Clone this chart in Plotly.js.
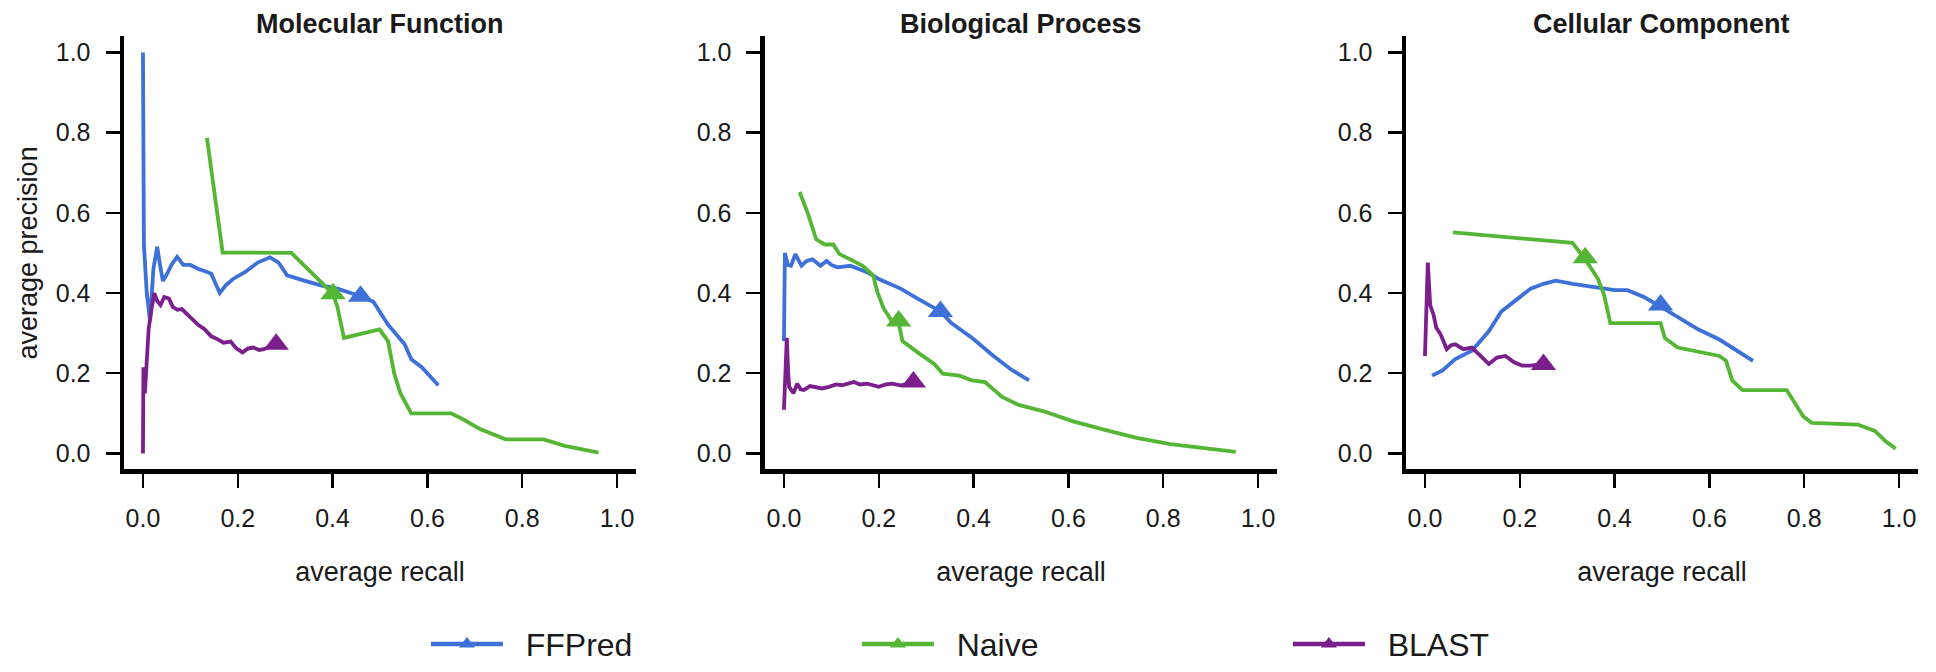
<!DOCTYPE html>
<html>
<head>
<meta charset="utf-8">
<script src="https://cdn.plot.ly/plotly-3.0.1.min.js"></script>
<style>
  html, body { margin: 0; padding: 0; background: #ffffff; }
  #chart { width: 1936px; height: 672px; }
</style>
</head>
<body>
<div id="chart"></div>
<script>
// ---------------- data ----------------
const methods = ["FFPred", "Naive", "BLAST"];
const panelTitles = ["Molecular Function", "Biological Process", "Cellular Component"];
const tickValues = [0, 0.2, 0.4, 0.6, 0.8, 1.0];
const tickLabels = ["0.0", "0.2", "0.4", "0.6", "0.8", "1.0"];

// Molecular Function
const mfFFPredRecall    = [0.000,0.002,0.008,0.015,0.022,0.030,0.036,0.042,0.052,0.060,0.072,0.085,0.100,0.117,0.130,0.144,0.162,0.175,0.190,0.215,0.242,0.268,0.286,0.304,0.340,0.375,0.410,0.459,0.486,0.517,0.552,0.566,0.588,0.623];
const mfFFPredPrecision = [1.000,0.520,0.400,0.330,0.460,0.515,0.470,0.430,0.450,0.470,0.490,0.470,0.470,0.460,0.455,0.448,0.400,0.420,0.435,0.452,0.476,0.489,0.476,0.444,0.431,0.419,0.411,0.392,0.378,0.321,0.272,0.235,0.215,0.170];
const mfNaiveRecall     = [0.135,0.168,0.313,0.401,0.410,0.424,0.499,0.517,0.530,0.543,0.566,0.650,0.677,0.712,0.765,0.845,0.890,0.961];
const mfNaivePrecision  = [0.787,0.501,0.500,0.398,0.366,0.288,0.309,0.280,0.199,0.150,0.100,0.100,0.084,0.060,0.035,0.035,0.019,0.002];
const mfBlastRecall     = [0.000,0.001,0.004,0.008,0.012,0.018,0.024,0.030,0.037,0.045,0.055,0.063,0.073,0.082,0.095,0.105,0.117,0.130,0.144,0.157,0.170,0.185,0.197,0.210,0.222,0.233,0.245,0.255,0.268,0.281];
const mfBlastPrecision  = [0.000,0.215,0.150,0.220,0.310,0.360,0.400,0.380,0.370,0.390,0.386,0.365,0.358,0.360,0.346,0.335,0.320,0.310,0.292,0.285,0.276,0.279,0.262,0.252,0.262,0.264,0.258,0.260,0.266,0.272];
const mfMarkRecall      = [0.459, 0.401, 0.281];
const mfMarkPrecision   = [0.392, 0.398, 0.272];

// Biological Process
const bpFFPredRecall    = [0.000,0.002,0.008,0.015,0.024,0.037,0.048,0.060,0.077,0.090,0.100,0.113,0.140,0.175,0.200,0.246,0.282,0.330,0.353,0.397,0.442,0.477,0.517];
const bpFFPredPrecision = [0.280,0.500,0.470,0.468,0.497,0.468,0.480,0.484,0.468,0.480,0.470,0.464,0.468,0.452,0.435,0.411,0.386,0.354,0.325,0.288,0.243,0.211,0.182];
const bpNaiveRecall     = [0.033,0.050,0.068,0.086,0.104,0.117,0.140,0.166,0.188,0.197,0.210,0.228,0.242,0.250,0.282,0.317,0.335,0.370,0.397,0.424,0.460,0.495,0.548,0.610,0.673,0.744,0.815,0.886,0.953];
const bpNaivePrecision  = [0.652,0.600,0.534,0.521,0.521,0.497,0.484,0.468,0.444,0.403,0.362,0.329,0.325,0.280,0.252,0.223,0.199,0.194,0.182,0.178,0.141,0.121,0.105,0.080,0.060,0.039,0.023,0.012,0.004];
const bpBlastRecall     = [0.000,0.003,0.006,0.009,0.011,0.020,0.028,0.035,0.042,0.055,0.068,0.080,0.095,0.110,0.122,0.135,0.148,0.160,0.175,0.188,0.200,0.215,0.228,0.246,0.260,0.273];
const bpBlastPrecision  = [0.109,0.220,0.288,0.200,0.166,0.150,0.174,0.160,0.158,0.168,0.166,0.162,0.166,0.172,0.170,0.175,0.178,0.172,0.174,0.170,0.166,0.172,0.174,0.170,0.174,0.176];
const bpMarkRecall      = [0.330, 0.242, 0.273];
const bpMarkPrecision   = [0.354, 0.330, 0.178];

// Cellular Component
const ccFFPredRecall    = [0.015,0.037,0.064,0.099,0.135,0.161,0.196,0.223,0.250,0.276,0.312,0.356,0.400,0.427,0.462,0.497,0.542,0.577,0.621,0.648,0.692];
const ccFFPredPrecision = [0.194,0.207,0.235,0.256,0.305,0.354,0.386,0.411,0.423,0.431,0.423,0.415,0.407,0.407,0.390,0.366,0.333,0.309,0.284,0.264,0.231];
const ccNaiveRecall     = [0.059,0.311,0.338,0.365,0.378,0.391,0.497,0.506,0.533,0.621,0.635,0.648,0.670,0.763,0.798,0.816,0.913,0.949,0.971,0.993];
const ccNaivePrecision  = [0.551,0.525,0.484,0.435,0.395,0.325,0.325,0.288,0.264,0.243,0.231,0.182,0.158,0.158,0.092,0.076,0.072,0.056,0.031,0.012];
const ccBlastRecall     = [0.000,0.002,0.006,0.011,0.018,0.024,0.033,0.046,0.055,0.064,0.081,0.099,0.117,0.135,0.152,0.170,0.188,0.205,0.223,0.250];
const ccBlastPrecision  = [0.243,0.354,0.476,0.370,0.346,0.313,0.297,0.260,0.270,0.272,0.260,0.264,0.243,0.223,0.239,0.243,0.227,0.219,0.219,0.223];
const ccMarkRecall      = [0.497, 0.338, 0.250];
const ccMarkPrecision   = [0.370, 0.488, 0.222];

// ---------------- styling ----------------
const colors = ["#3d70d8", "#54b634", "#7a1f8c"];
const FONT = "Liberation Sans, Arial, Helvetica, sans-serif";
const TEXT = "#1a1a1a";

const panels = [
  { xa: "x",  ya: "y",  lines: [[mfFFPredRecall, mfFFPredPrecision],[mfNaiveRecall, mfNaivePrecision],[mfBlastRecall, mfBlastPrecision]], mr: mfMarkRecall, mp: mfMarkPrecision },
  { xa: "x2", ya: "y2", lines: [[bpFFPredRecall, bpFFPredPrecision],[bpNaiveRecall, bpNaivePrecision],[bpBlastRecall, bpBlastPrecision]], mr: bpMarkRecall, mp: bpMarkPrecision },
  { xa: "x3", ya: "y3", lines: [[ccFFPredRecall, ccFFPredPrecision],[ccNaiveRecall, ccNaivePrecision],[ccBlastRecall, ccBlastPrecision]], mr: ccMarkRecall, mp: ccMarkPrecision }
];

const traces = [];
panels.forEach(p => {
  p.lines.forEach((xy, i) => {
    traces.push({
      type: "scatter", mode: "lines", x: xy[0], y: xy[1],
      xaxis: p.xa, yaxis: p.ya, showlegend: false, hoverinfo: "skip",
      line: { color: colors[i], width: 3.8 }, legendgroup: methods[i]
    });
  });
  p.mr.forEach((r, i) => {
    traces.push({
      type: "scatter", mode: "markers", x: [r], y: [p.mp[i]],
      xaxis: p.xa, yaxis: p.ya, showlegend: false, hoverinfo: "skip",
      marker: { symbol: "triangle-up", size: 22, color: colors[i] }, legendgroup: methods[i]
    });
  });
});
methods.forEach((m, i) => {
  traces.push({
    type: "scatter", mode: "lines+markers", x: [null], y: [null], name: "\u00a0\u00a0" + m,
    xaxis: "x", yaxis: "y", showlegend: true, legendgroup: m,
    line: { color: colors[i], width: 4.5 },
    marker: { symbol: "triangle-up", size: 14, color: colors[i] }
  });
});

const domains = [[0.06405, 0.32851], [0.39514, 0.65961], [0.72624, 0.99070]];
const yDomain = [0.2887, 0.9449];

function xAxis(d, anchor) {
  return {
    domain: d, anchor: anchor, range: [-0.04, 1.04], fixedrange: true,
    showline: true, linecolor: "#000", linewidth: 4.5, mirror: false,
    showgrid: false, zeroline: false,
    ticks: "outside", ticklen: 14, tickwidth: 2.5, tickcolor: "#000",
    tickvals: tickValues, ticktext: tickLabels, ticklabelstandoff: 9,
    tickfont: { family: FONT, size: 25, color: TEXT },
    title: { text: "average recall", font: { family: FONT, size: 27, color: TEXT }, standoff: 32 }
  };
}
function yAxis(anchor, withTitle) {
  const a = {
    domain: yDomain, anchor: anchor, range: [-0.04, 1.04], fixedrange: true,
    showline: true, linecolor: "#000", linewidth: 4.5,
    showgrid: false, zeroline: false,
    ticks: "outside", ticklen: 14, tickwidth: 2.5, tickcolor: "#000",
    tickvals: tickValues, ticktext: tickLabels, ticklabelstandoff: 10,
    tickfont: { family: FONT, size: 25, color: TEXT }
  };
  if (withTitle) a.title = { text: "average precision", font: { family: FONT, size: 27, color: TEXT }, standoff: 12 };
  return a;
}

const annotations = panelTitles.map((t, i) => ({
  text: "<b>" + t + "</b>", xref: "paper", yref: "paper",
  x: (domains[i][0] + domains[i][1]) / 2, y: 0.964, xanchor: "center", yanchor: "middle",
  showarrow: false, font: { family: FONT, size: 27, color: TEXT }
}));

const layout = {
  width: 1936, height: 672,
  margin: { l: 0, r: 0, t: 0, b: 0 },
  paper_bgcolor: "#ffffff", plot_bgcolor: "#ffffff",
  showlegend: true,
  legend: {
    orientation: "h", x: 0.2200, xanchor: "left", y: 0.024, yanchor: "middle",
    font: { family: FONT, size: 32, color: TEXT },
    itemwidth: 72, entrywidth: 344, entrywidthmode: "pixels",
    bgcolor: "rgba(0,0,0,0)"
  },
  xaxis: xAxis(domains[0], "y"),
  yaxis: yAxis("x", true),
  xaxis2: xAxis(domains[1], "y2"),
  yaxis2: yAxis("x2", false),
  xaxis3: xAxis(domains[2], "y3"),
  yaxis3: yAxis("x3", false),
  annotations: annotations
};

Plotly.newPlot("chart", traces, layout, { displayModeBar: false, staticPlot: true });
</script>
</body>
</html>
